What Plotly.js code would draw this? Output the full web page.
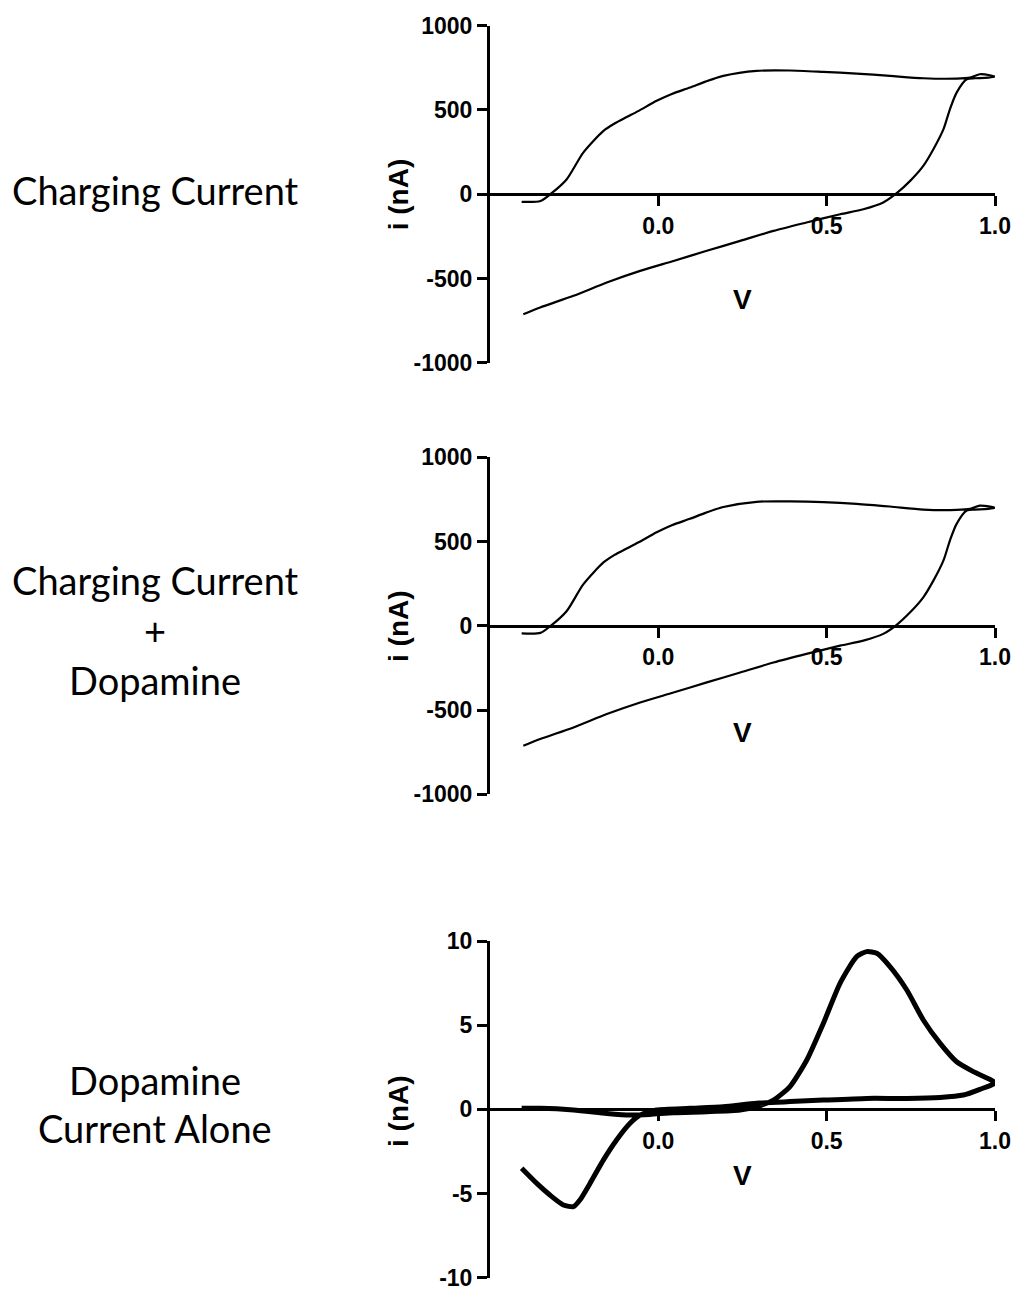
<!DOCTYPE html>
<html>
<head>
<meta charset="utf-8">
<script src="https://cdn.plot.ly/plotly-3.0.1.min.js"></script>
<style>
  html, body { margin: 0; padding: 0; background: #ffffff; }
  #chart { width: 1017px; height: 1291px; }
</style>
</head>
<body>
<div id="chart"></div>
<script>
// ---------- Data ----------
// Panel 1: Charging current (V vs i in nA), forward scan then reverse scan
const chargeV = [
  -0.406, -0.35, -0.317, -0.272, -0.223, -0.163, -0.13, -0.094, -0.06, -0.005, 0.04, 0.094, 0.14, 0.193, 0.292, 0.391, 0.49, 0.589, 0.688, 0.787, 0.886, 0.926, 0.955, 0.985, 1.0,
  0.97, 0.94, 0.916, 0.886, 0.866, 0.847, 0.817, 0.787, 0.748, 0.708, 0.668, 0.609, 0.54, 0.44, 0.342, 0.243, 0.144, 0.045, -0.054, -0.153, -0.252, -0.351, -0.401
];
const chargeI = [
  -45, -40, 6, 89, 247, 376, 420, 458, 493, 554, 595, 633, 668, 702, 732, 734, 726, 716, 702, 688, 686, 692, 712, 706, 698,
  690, 688, 682, 603, 504, 386, 267, 168, 79, 6, -49, -89, -119, -168, -218, -277, -336, -396, -455, -524, -603, -672, -712
];

// Panel 2: Charging current + dopamine
const chargeDaV = [
  -0.406, -0.35, -0.317, -0.272, -0.223, -0.163, -0.13, -0.094, -0.06, -0.005, 0.04, 0.094, 0.14, 0.193, 0.292, 0.391, 0.49, 0.589, 0.688, 0.787, 0.886, 0.926, 0.955, 0.985, 1.0,
  0.97, 0.94, 0.916, 0.886, 0.866, 0.847, 0.817, 0.787, 0.748, 0.708, 0.668, 0.609, 0.54, 0.44, 0.342, 0.243, 0.144, 0.045, -0.054, -0.153, -0.252, -0.351, -0.401
];
const chargeDaI = [
  -45, -42, 4, 88, 246, 376, 421, 459, 494, 555, 597, 635, 670, 705, 736, 738, 734, 724, 708, 690, 688, 694, 713, 707, 700,
  692, 690, 684, 605, 506, 388, 268, 169, 80, 6, -48, -88, -118, -167, -218, -277, -336, -396, -455, -524, -603, -672, -712
];

// Panel 3: Dopamine current alone (nA)
const daV = [
  -0.406, -0.35, -0.252, -0.153, -0.084, -0.025, 0.045, 0.144, 0.243, 0.292, 0.342, 0.391, 0.441, 0.49, 0.54, 0.589, 0.619, 0.649, 0.688, 0.738, 0.787, 0.837, 0.886, 0.936, 1.0,
  0.955, 0.906, 0.837, 0.738, 0.619, 0.49, 0.391, 0.292, 0.193, 0.094, -0.005, -0.054, -0.084, -0.124, -0.163, -0.203, -0.233, -0.252, -0.282, -0.322, -0.361, -0.406
];
const daI = [
  0.06, 0.06, -0.04, -0.24, -0.34, -0.30, -0.20, -0.14, -0.04, 0.16, 0.55, 1.35, 2.93, 5.1, 7.5, 9.07, 9.37, 9.27, 8.48, 7.09, 5.31, 3.92, 2.83, 2.24, 1.58,
  1.19, 0.85, 0.71, 0.65, 0.65, 0.55, 0.46, 0.36, 0.16, 0.06, -0.04, -0.34, -0.83, -1.82, -3.0, -4.4, -5.39, -5.78, -5.68, -5.09, -4.4, -3.5
];

// Tick labels
const xTickVals = [0, 0.5, 1.0];
const xTickText = ["0.0", "0.5", "1.0"];
const yTickValsBig = [-1000, -500, 0, 500, 1000];
const yTickTextBig = ["-1000", "-500", "0", "500", "1000"];
const yTickValsSmall = [-10, -5, 0, 5, 10];
const yTickTextSmall = ["-10", "-5", "0", "5", "10"];

// Side labels
const panelLabels = [
  ["Charging Current"],
  ["Charging Current", "+", "Dopamine"],
  ["Dopamine", "Current Alone"]
];

// ---------- Layout helpers ----------
const W = 1017, H = 1291;
const px2fx = px => px / W;
const py2fy = py => 1 - py / H;

const xDomain = [px2fx(490), px2fx(995)];
const yDomains = [
  [py2fy(362.7), py2fy(25.7)],
  [py2fy(794.3), py2fy(457.3)],
  [py2fy(1277.7), py2fy(941)]
];
const yRanges = [[-1000, 1000], [-1000, 1000], [-10, 10]];

const tickFont = { family: "Liberation Sans, Arial, sans-serif", size: 23, color: "#000", weight: 700 };
const titleFont = { family: "Liberation Sans, Arial, sans-serif", size: 28, color: "#000", weight: 700 };
const labelFont = { family: "Lato, Noto Sans, sans-serif", size: 38, color: "#000" };

const traces = [
  { x: chargeV, y: chargeI, xaxis: "x", yaxis: "y", mode: "lines",
    line: { color: "#000", width: 2.2, shape: "spline", smoothing: 0.7 }, hoverinfo: "skip" },
  { x: chargeDaV, y: chargeDaI, xaxis: "x2", yaxis: "y2", mode: "lines",
    line: { color: "#000", width: 2.2, shape: "spline", smoothing: 0.7 }, hoverinfo: "skip" },
  { x: daV, y: daI, xaxis: "x3", yaxis: "y3", mode: "lines",
    line: { color: "#000", width: 5, shape: "spline", smoothing: 0.6 }, hoverinfo: "skip" }
];

const layout = {
  width: W, height: H,
  margin: { l: 0, r: 0, t: 0, b: 0, pad: 0 },
  paper_bgcolor: "#fff", plot_bgcolor: "rgba(0,0,0,0)",
  showlegend: false,
  annotations: []
};

for (let k = 0; k < 3; k++) {
  const sfx = k === 0 ? "" : String(k + 1);
  const [d0, d1] = yDomains[k];
  const [r0, r1] = yRanges[k];
  const zeroPos = d0 + (0 - r0) / (r1 - r0) * (d1 - d0);
  layout["xaxis" + sfx] = {
    domain: xDomain, range: [-0.5, 1.0], anchor: "free", position: zeroPos,
    showline: true, linewidth: 3, linecolor: "#000",
    ticks: "outside", ticklen: 10, tickwidth: 3, tickcolor: "#000",
    tickvals: xTickVals, ticktext: xTickText, tickfont: tickFont,
    ticklabeloverflow: "allow",
    showgrid: false, zeroline: false, fixedrange: true
  };
  layout["yaxis" + sfx] = {
    domain: yDomains[k], range: yRanges[k], anchor: "x" + sfx,
    showline: true, linewidth: 3, linecolor: "#000",
    ticks: "outside", ticklen: 10, tickwidth: 3, tickcolor: "#000",
    tickvals: k === 2 ? yTickValsSmall : yTickValsBig,
    ticktext: k === 2 ? yTickTextSmall : yTickTextBig,
    tickfont: tickFont,
    ticklabeloverflow: "allow",
    showgrid: false, zeroline: false, fixedrange: true
  };
}

// Axis titles as annotations
const yTitlePy = [194.3, 626, 1111];
const vTitlePy = [300, 732, 1175];
for (let k = 0; k < 3; k++) {
  layout.annotations.push({
    text: "i (nA)", xref: "paper", yref: "paper",
    x: px2fx(398), y: py2fy(yTitlePy[k]), textangle: -90,
    xanchor: "center", yanchor: "middle", showarrow: false, font: titleFont
  });
  layout.annotations.push({
    text: "V", xref: "paper", yref: "paper",
    x: px2fx(742), y: py2fy(vTitlePy[k]),
    xanchor: "center", yanchor: "middle", showarrow: false, font: titleFont
  });
}

// Side labels
const labelLinePy = [[190], [580, 630, 680], [1080, 1128]];
panelLabels.forEach((lines, k) => {
  lines.forEach((t, j) => {
    layout.annotations.push({
      text: t, xref: "paper", yref: "paper",
      x: px2fx(155), y: py2fy(labelLinePy[k][j]),
      xanchor: "center", yanchor: "middle", showarrow: false, font: labelFont
    });
  });
});

Plotly.newPlot("chart", traces, layout, { displayModeBar: false, staticPlot: true });
</script>
</body>
</html>
